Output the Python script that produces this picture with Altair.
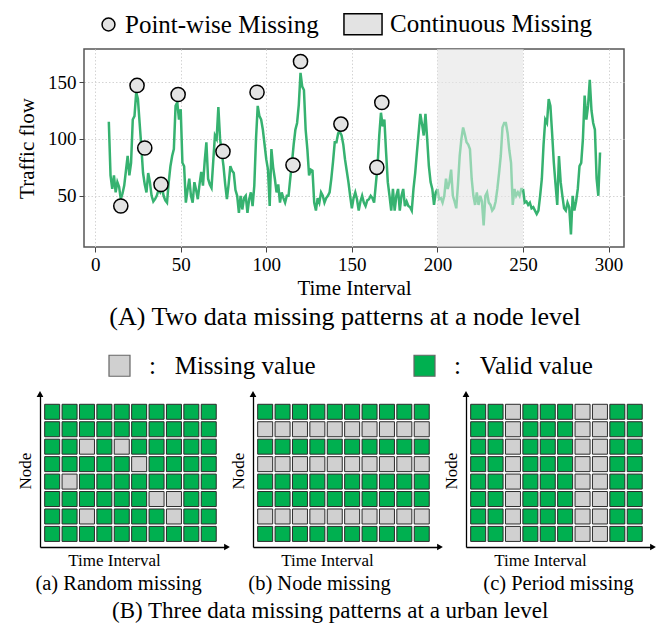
import altair as alt
import pandas as pd

SERIF = "Liberation Serif"

# ---------------- (A) node-level series ----------------
t_start = 8
flow = [
    115, 68, 56, 68, 53, 62, 58, 47, 52, 59,
    72, 85, 68, 79, 117, 120, 141, 135, 114, 93,
    70, 60, 53, 70, 62, 50, 45, 47, 50, 55,
    53, 58, 50, 46, 44, 62, 76, 85, 91, 129,
    132, 117, 126, 79, 76, 44, 55, 65, 50, 44,
    62, 55, 47, 60, 71, 59, 80, 97, 65, 60,
    57, 80, 103, 100, 128, 100, 88, 76, 60, 47,
    60, 76, 72, 70, 55, 50, 35, 50, 38, 48,
    50, 35, 47, 53, 41, 59, 100, 129, 120, 117,
    108, 95, 82, 73, 41, 91, 75, 65, 53, 60,
    44, 53, 48, 44, 50, 50, 65, 79, 95, 108,
    114, 130, 158, 146, 143, 108, 91, 68, 73, 72,
    44, 37, 48, 44, 53, 50, 44, 48, 50, 53,
    65, 80, 97, 97, 105, 106, 103, 95, 82, 72,
    62, 50, 39, 48, 53, 47, 37, 45, 50, 44,
    41, 46, 47, 50, 48, 44, 60, 76, 103, 123,
    111, 117, 88, 62, 50, 37, 56, 37, 50, 56,
    37, 50, 56, 41, 45, 41, 40, 37, 56, 70,
    88, 105, 122, 113, 103, 122, 100, 76, 62, 56,
    42, 53, 56, 47, 48, 44, 50, 65, 56, 62,
    73, 50, 45, 39, 60, 85, 100, 110, 104, 97,
    95, 91, 65, 50, 42, 53, 42, 50, 45, 24,
    50, 53, 44, 42, 37, 39, 45, 56, 70, 85,
    110, 114, 114, 105, 90, 79, 42, 56, 50, 53,
    50, 56, 56, 44, 45, 42, 44, 39, 40, 37,
    34, 37, 50, 65, 95, 117, 114, 135, 129, 105,
    79, 60, 42, 85, 62, 50, 39, 37, 44, 40,
    16, 50, 37, 45, 56, 76, 79, 100, 138, 117,
    129, 152, 125, 114, 108, 65, 50, 88,
]
gap_start, gap_end = 200, 250
pw_x = [15, 24.5, 29, 38.5, 48.5, 74.7, 94.6, 115.6, 120, 143.6, 164.6, 167.5]
pw_y = [41, 147, 92, 60, 139, 89, 141, 77, 168, 113, 75, 132]
legend_kinds = ["Point-wise Missing", "Continuous Missing"]
x_ticks = [0, 50, 100, 150, 200, 250, 300]
y_ticks = [50, 100, 150]

# ---------------- (B) urban-level grids ----------------
n_cols, n_rows = 10, 8
random_missing = [(2, 2), (2, 4), (3, 5), (4, 1), (5, 6), (5, 7), (6, 2), (6, 7)]  # (row from top, col)
node_missing_rows = [1, 3, 6]
period_missing_cols = [2, 6, 7]
status_labels = ["Missing value", "Valid value"]

DARK = "#36b270"
LIGHT = "#93d4b0"
GRAY_CELL = "#d0d0d0"
GREEN_CELL = "#00b050"
NBSP = "\u00a0"

# ---------- build tables ----------
rows = []
for i, v in enumerate(flow):
    ti = t_start + i
    if ti <= gap_start:
        rows.append((ti, v, "before"))
    if gap_start <= ti <= gap_end:
        rows.append((ti, v, "gap"))
    if ti >= gap_end:
        rows.append((ti, v, "after"))
line_df = pd.DataFrame(rows, columns=["t", "v", "seg"])
pw_df = pd.DataFrame({"t": pw_x, "v": pw_y})
band_df = pd.DataFrame({"x0": [gap_start], "x1": [gap_end]})
kinds_df = pd.DataFrame({"kind": legend_kinds})

xs = alt.Scale(domain=[-6.5, 309], nice=False, zero=False)
ys = alt.Scale(domain=[5, 179], nice=False, zero=False)

xaxis = alt.Axis(values=x_ticks, title="Time Interval", grid=True, gridDash=[1.5, 2],
                 gridColor="#d4d4d4", domain=False, tickSize=5, tickColor="#444",
                 labelFontSize=19, labelColor="black", labelPadding=3,
                 titleFontSize=21, titleFontWeight="normal", titleColor="black", titlePadding=3)
yaxis = alt.Axis(values=y_ticks, title="Traffic flow", grid=True, gridDash=[1.5, 2],
                 gridColor="#d4d4d4", domain=False, tickSize=5, tickColor="#444",
                 labelFontSize=19, labelColor="black", labelPadding=3,
                 titleFontSize=21, titleFontWeight="normal", titleColor="black", titlePadding=10)

band = alt.Chart(band_df).mark_rect(color="#e4e4e4", opacity=0.6).encode(
    x=alt.X("x0:Q", scale=xs, axis=xaxis), x2="x1:Q")

dark_line = alt.Chart(line_df).transform_filter("datum.seg != 'gap'").mark_line(
    color=DARK, strokeWidth=2.5).encode(
    x=alt.X("t:Q", scale=xs, axis=xaxis), y=alt.Y("v:Q", scale=ys, axis=yaxis), detail="seg:N")
light_line = alt.Chart(line_df).transform_filter("datum.seg == 'gap'").mark_line(
    color=LIGHT, strokeWidth=2.5).encode(
    x=alt.X("t:Q", scale=xs), y=alt.Y("v:Q", scale=ys))

circles = alt.Chart(pw_df).mark_point(shape="circle", filled=True, fill="#e3e3e3", stroke="black",
                                      strokeWidth=1.5, size=200, opacity=1).encode(
    x=alt.X("t:Q", scale=xs), y=alt.Y("v:Q", scale=ys))

circ_path = "M0.29,0A0.46,0.46,0,1,1,1.21,0A0.46,0.46,0,1,1,0.29,0Z"
rect_path = "M-1.36,-0.75H1.36V0.75H-1.36Z"
legend_layer = alt.Chart(kinds_df).transform_filter("false").mark_point(
    filled=True, fill="#e3e3e3", stroke="black", strokeWidth=1.5, opacity=1).encode(
    shape=alt.Shape("kind:N", scale=alt.Scale(domain=legend_kinds, range=[circ_path, rect_path]),
                    legend=alt.Legend(title=None, orient="none", legendX=-1, legendY=-40,
                                      direction="horizontal", symbolSize=784, padding=0,
                                      symbolStrokeWidth=1.5, labelFontSize=25, labelColor="black",
                                      labelOffset=12, columnPadding=21, labelLimit=400)))

top_plot = alt.layer(band, dark_line, light_line, circles, legend_layer).properties(
    width=540, height=198,
    view=alt.ViewBackground(stroke="#555", strokeWidth=1.5),
    title=alt.Title("(A) Two data missing patterns at a node level", orient="bottom",
                    fontSize=26, fontWeight="normal", color="black", offset=6, dx=-9))

# blank layout spacer (draws nothing) that shifts the top plot to the right of the grids' origin
spacer = alt.Chart(kinds_df).transform_filter("false").mark_point().properties(width=1, height=1)
top = alt.hconcat(spacer, top_plot, spacing=43, bounds="flush").resolve_scale(shape="independent")

# ---------- grids ----------
gx_dom = [-0.2, 10.55]
gy_dom = [-0.25, 8.52]
gx = alt.Scale(domain=gx_dom, nice=False, zero=False)
gy = alt.Scale(domain=gy_dom, nice=False, zero=False)


def grid_df(kind):
    recs = []
    for r in range(n_rows):
        for c in range(n_cols):
            if kind == "random":
                miss = (r, c) in random_missing
            elif kind == "node":
                miss = r in node_missing_rows
            else:
                miss = c in period_missing_cols
            recs.append({"cx": c + 0.5, "cy": n_rows - r - 0.5,
                         "status": status_labels[0] if miss else status_labels[1]})
    return pd.DataFrame(recs)


color_enc = alt.Color("status:N", scale=alt.Scale(domain=status_labels, range=[GRAY_CELL, GREEN_CELL]),
                      legend=alt.Legend(title=None, orient="none", legendX=67, legendY=-41,
                                        direction="horizontal", symbolType="square", symbolSize=441,
                                        symbolStrokeColor="#666", symbolStrokeWidth=1.2,
                                        labelFontSize=25, labelColor="black", labelOffset=17,
                                        columnPadding=95, labelLimit=400,
                                        labelExpr="':" + NBSP * 3 + "' + datum.label"))

arrow_df = pd.DataFrame({"ax": [gx_dom[1]], "ay": [gy_dom[0]], "ux": [gx_dom[0]], "uy": [gy_dom[1]]})


def panel(kind, caption, dx):
    gx_axis = alt.Axis(title="Time Interval", labels=False, ticks=False, grid=False, domain=True,
                       domainColor="black", domainWidth=1.3, titleFontSize=17, titleFontWeight="normal",
                       titleColor="black", titlePadding=5, titleX=74)
    gy_axis = alt.Axis(title="Node", labels=False, ticks=False, grid=False, domain=True,
                       domainColor="black", domainWidth=1.3, titleFontSize=17, titleFontWeight="normal",
                       titleColor="black", titlePadding=6)
    cells = alt.Chart(grid_df(kind)).mark_square(size=225, opacity=1, stroke="#2b2b2b",
                                                 strokeWidth=1).encode(
        x=alt.X("cx:Q", scale=gx, axis=gx_axis), y=alt.Y("cy:Q", scale=gy, axis=gy_axis), color=color_enc)
    a_right = alt.Chart(arrow_df).mark_point(shape="triangle-right", filled=True, color="black",
                                             opacity=1, size=45).encode(
        x=alt.X("ax:Q", scale=gx), y=alt.Y("ay:Q", scale=gy))
    a_up = alt.Chart(arrow_df).mark_point(shape="triangle-up", filled=True, color="black",
                                          opacity=1, size=45).encode(
        x=alt.X("ux:Q", scale=gx), y=alt.Y("uy:Q", scale=gy))
    return alt.layer(cells, a_right, a_up).properties(
        width=187, height=153,
        title=alt.Title(caption, orient="bottom", fontSize=20.5, fontWeight="normal", color="black",
                        offset=6, dx=dx))


bottom = alt.hconcat(
    panel("random", "(a) Random missing", -15),
    panel("node", "(b) Node missing", -27),
    panel("period", "(c) Period missing", -1),
    spacing=26, bounds="flush",
    title=alt.Title("(B) Three data missing patterns at a urban level", orient="bottom",
                    anchor="start", frame="group", fontSize=23, fontWeight="normal",
                    color="black", offset=5, dx=72),
).resolve_scale(color="shared")

chart = alt.vconcat(top, bottom, spacing=22).resolve_scale(
    shape="independent", color="independent").properties(
    padding={"left": 7, "top": 0, "right": 0, "bottom": 0}
).configure(font=SERIF).configure_view(stroke="transparent")

chart.save("out.html", embed_options={"renderer": "svg", "actions": False})
